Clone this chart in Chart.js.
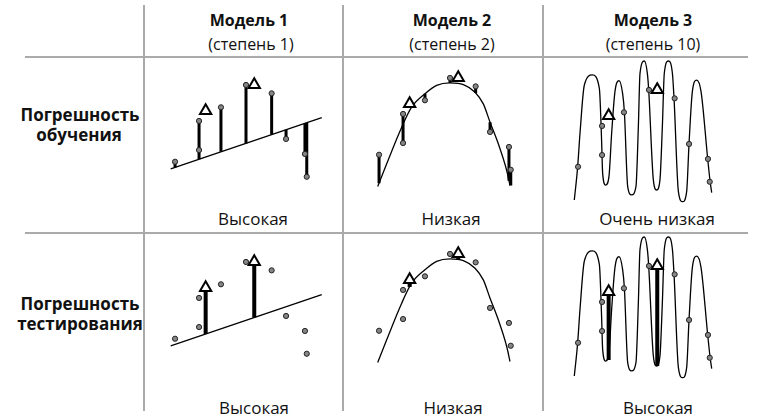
<!DOCTYPE html>
<html>
<head>
<meta charset="utf-8">
<script src="https://cdn.jsdelivr.net/npm/chart.js@4.4.1/dist/chart.umd.min.js"></script>
<style>
  body { margin: 0; background: #fff; width: 765px; height: 418px; position: relative; overflow: hidden;
         font-family: "Open Sans", sans-serif; color: #111; }
  .t { position: absolute; white-space: nowrap; transform: translate(-50%, -50%); font-size: 17px; line-height: 1; }
  .h { font-size: 16px; }
  .b { font-weight: bold; }
  .hl { position: absolute; height: 2px; background: #aaa; }
  .vl { position: absolute; width: 2px; background: #aaa; }
  canvas { position: absolute; }
</style>
</head>
<body>
<!-- grid -->
<div class="hl" style="left:25px;top:56px;width:723px"></div>
<div class="hl" style="left:25px;top:232px;width:723px"></div>
<div class="vl" style="left:143px;top:5px;height:406px"></div>
<div class="vl" style="left:342px;top:5px;height:406px"></div>
<div class="vl" style="left:542px;top:5px;height:406px"></div>

<!-- headers -->
<div class="t h b" style="left:249px;top:20px">Модель 1</div>
<div class="t h" style="left:251px;top:44px">(степень 1)</div>
<div class="t h b" style="left:452px;top:20px">Модель 2</div>
<div class="t h" style="left:452px;top:44px">(степень 2)</div>
<div class="t h b" style="left:653px;top:20px">Модель 3</div>
<div class="t h" style="left:653px;top:44px">(степень 10)</div>

<div class="t b" style="left:80px;top:114px">Погрешность</div>
<div class="t b" style="left:79px;top:134px">обучения</div>
<div class="t b" style="left:80px;top:303px">Погрешность</div>
<div class="t b" style="left:80px;top:323px">тестирования</div>

<div class="t" style="left:253px;top:218px">Высокая</div>
<div class="t" style="left:451px;top:218px">Низкая</div>
<div class="t" style="left:657px;top:218px">Очень низкая</div>
<div class="t" style="left:254px;top:407px">Высокая</div>
<div class="t" style="left:453px;top:407px">Низкая</div>
<div class="t" style="left:658px;top:407px">Высокая</div>

<canvas id="p1" width="180" height="180" style="left:150px;top:50px"></canvas>
<canvas id="p2" width="180" height="180" style="left:354px;top:43px"></canvas>
<canvas id="p3" width="180" height="180" style="left:553px;top:55px"></canvas>
<canvas id="p4" width="180" height="180" style="left:150px;top:227px"></canvas>
<canvas id="p5" width="180" height="180" style="left:354px;top:219px"></canvas>
<canvas id="p6" width="180" height="180" style="left:553px;top:231px"></canvas>

<script>
// training points (same in every panel)
const ptX = [1.67, 3.27, 3.27, 4.73, 6.4, 8.11, 9.07, 10.33, 10.45];
const ptY = [2.55, 5.27, 3.33, 6.18, 7.67, 7.11, 4.07, 3.07, 1.55];

// test points (triangles)
const testX = [3.71, 6.95];
const testY = [5.95, 7.68];

// model 1 - straight line
const lineX = [1.38, 11.45];
const lineY = [2.07, 5.49];

// model 2 - parabola
const parX = [1.58, 3.18, 3.84, 4.73, 5.51, 6.4, 7.29, 8.07, 8.62, 9.07, 9.62, 10.18, 10.4];
const parY = [0.43, 4.39, 5.72, 6.61, 7.17, 7.34, 7.23, 6.72, 5.94, 4.72, 3.28, 1.5, 0.5];

// model 3 - degree 10 (peaks, troughs and their shoulders)
const wigX = [1.42, 1.64, 1.8, 2.09, 2.62, 3.09, 3.24, 3.31, 3.51, 3.73, 3.91, 4.13, 4.4, 4.64,
              4.76, 4.98, 5.24, 5.53, 5.69, 5.8, 6.09, 6.29, 6.38, 6.69, 6.91, 7.13, 7.29, 7.42,
              7.69, 7.96, 8.07, 8.36, 8.64, 8.91, 9.07, 9.29, 9.58, 9.87, 10.31, 10.47, 10.58];
const wigY = [0.33, 2.49, 4.78, 8.0, 8.67, 7.78, 4.3, 2.11, 1.33, 1.89, 4.78, 7.56, 8.29, 7.44,
              6.18, 1.22, 0.67, 1.22, 5.22, 8.78, 9.6, 8.78, 7.67, 1.67, 1.0, 1.67, 5.22, 8.78,
              9.6, 8.78, 7.09, 0.89, 0.22, 0.89, 4.11, 7.56, 8.33, 7.56, 3.11, 1.6, 0.82];

// model values at the training points (ends of the error bars)
const fit1Train = [2.17, 2.71, 2.71, 3.21, 3.77, 4.36, 4.68, 5.11, 5.15];
const fit2Train = [0.65, 4.57, 4.57, 6.61, 7.34, 6.67, 4.72, 0.82, 0.5];
// model values at the test points (start of the arrows)
const fit1Test = [2.86, 3.96];
const fit2Test = [5.46, 7.27];
const fit3Test = [1.4, 1.0];

function xy(xs, ys) {
  return xs.map((x, i) => ({ x: x, y: ys[i] }));
}

function bars(xs, from, to) {
  const out = [];
  xs.forEach((x, i) => {
    out.push({ x: x, y: from[i] }, { x: x, y: to[i] }, { x: x, y: null });
  });
  return out;
}

function panel(id, curveX, curveY, smooth, barData, barWidth) {
  const datasets = [
    {
      data: xy(testX, testY), showLine: false, pointStyle: "triangle", pointRadius: 6.5,
      pointBackgroundColor: "#fff", pointBorderColor: "#000", pointBorderWidth: 2, order: 0
    },
    {
      data: xy(ptX, ptY), showLine: false, pointRadius: 2.6,
      pointBackgroundColor: "#858585", pointBorderColor: "#222", pointBorderWidth: 1, order: 1
    },
    {
      data: xy(curveX, curveY), borderColor: "#000", borderWidth: 1.3, pointRadius: 0,
      cubicInterpolationMode: smooth ? "monotone" : "default", tension: 0, order: 3
    }
  ];
  if (barData) {
    datasets.push({
      data: barData, borderColor: "#000", borderWidth: barWidth, pointRadius: 0,
      spanGaps: false, tension: 0, borderCapStyle: "butt", order: 2
    });
  }
  datasets.forEach(d => { d.clip = false; });

  new Chart(document.getElementById(id), {
    type: "line",
    data: { datasets },
    options: {
      responsive: false,
      animation: false,
      layout: { padding: 0, autoPadding: false },
      plugins: { legend: { display: false }, tooltip: { enabled: false } },
      scales: {
        x: { type: "linear", min: 0, max: 12, display: false },
        y: { type: "linear", min: -2, max: 10, display: false }
      }
    }
  });
}

// training error (top row)
panel("p1", lineX, lineY, false, bars(ptX, ptY, fit1Train), 3);
panel("p2", parX, parY, true, bars(ptX, ptY, fit2Train), 3);
panel("p3", wigX, wigY, true, null, 0);
// test error (bottom row)
panel("p4", lineX, lineY, false, bars(testX, fit1Test, testY), 4);
panel("p5", parX, parY, true, bars(testX, fit2Test, testY), 4);
panel("p6", wigX, wigY, true, bars(testX, fit3Test, testY), 4);
</script>
</body>
</html>
